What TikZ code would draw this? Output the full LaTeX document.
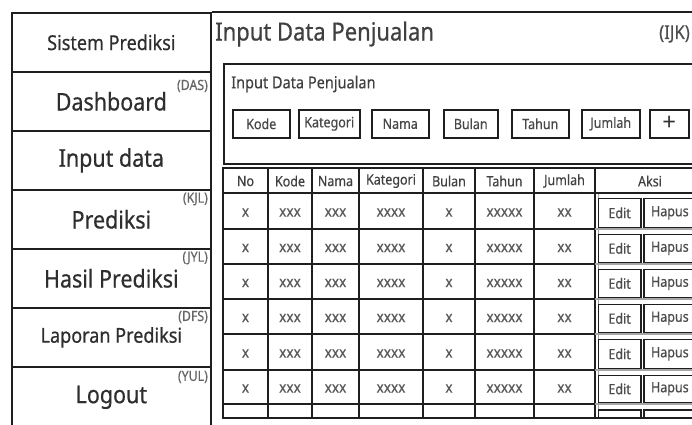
\documentclass[tikz,border=0pt]{standalone}
\usepackage{fontspec}
\setmainfont[FakeStretch=0.88,FakeBold=0.5]{Noto Sans}
\newfontfamily\thinfont{Noto Sans}
\begin{document}
\begin{tikzpicture}[x=1pt,y=-1pt,
  frame/.style={draw=black!88, line width=1.7pt},
  menu/.style={frame, anchor=north west, minimum width=199pt, minimum height=59pt, inner sep=0pt, text=black!82},
  big/.style={font=\fontsize{24.4}{27}\selectfont},
  mid/.style={font=\fontsize{20.5}{23}\selectfont},
  tag/.style={anchor=east, inner sep=0pt, text=black!60, font=\fontsize{14}{15}\selectfont},
  field/.style={draw=black!88, line width=1.5pt, anchor=north west, minimum height=28pt, inner sep=0pt, text=black!72, font=\fontsize{14.2}{16}\selectfont},
  head/.style={inner sep=0pt, text=black!75, font=\fontsize{14.2}{16}\selectfont},
  datum/.style={inner sep=0pt, text=black!65, font=\fontsize{15.5}{17}\selectfont},
  btn/.style={draw=black!88, line width=1.7pt, anchor=north west, minimum height=29pt, inner sep=0pt, text=black!70, font=\fontsize{14.2}{16}\selectfont},
  faint/.style={draw=black!35, line width=1.2pt},
]
\useasboundingbox (0,0) rectangle (692,424);

% ---------- side menu ----------
\node[menu, mid] (m0) at (11,12)  {Sistem Prediksi};
\node[menu, big] (m1) at (11,71)  {Dashboard};
\node[menu, big] (m2) at (11,130) {Input data};
\node[menu, big] (m3) at (11,189) {Prediksi};
\node[menu, big] (m4) at (11,248) {Hasil Prediksi};
\node[menu, mid] (m5) at (11,307) {Laporan Prediksi};
\node[menu, big, minimum height=61pt] (m6) at (11,366) {Logout};

\node[tag] (t1) at (208,86)  {(DAS)};
\node[tag] (t3) at (208,199) {(KJL)};
\node[tag] (t4) at (208,258) {(JYL)};
\node[tag] (t5) at (208,317) {(DFS)};
\node[tag] (t6) at (208,377) {(YUL)};

% ---------- page header ----------
\draw[frame] (m0.north east) -- (700,12);
\node[anchor=west, inner sep=0pt, text=black!75, font=\fontsize{25}{28}\selectfont] (title) at (215,34) {Input Data Penjualan};
\node[anchor=east, inner sep=0pt, text=black!70, font=\fontsize{19}{21}\selectfont] (code) at (690,34) {(IJK)};

% ---------- input form ----------
\node[frame, anchor=north west, minimum width=490pt, minimum height=100pt, inner sep=0pt] (form) at (223,63) {};
\node[anchor=west, inner sep=0pt, text=black!75, font=\fontsize{16.5}{18}\selectfont] (ftitle) at (231,84) {Input Data Penjualan};

\node[field, minimum width=57pt] (fkode) at (232,109) {Kode};
\node[field, minimum width=61pt] (fkat)  at (298,109) {Kategori};
\node[field, minimum width=57pt] (fnama) at (371,109) {Nama};
\node[field, minimum width=54pt] (fbul)  at (443,109) {Bulan};
\node[field, minimum width=57pt] (fthn)  at (511,109) {Tahun};
\node[field, minimum width=58pt] (fjml)  at (581,109) {Jumlah};
\node[field, minimum width=39pt, text=black!80, font=\thinfont\fontsize{24}{24}\selectfont] (fadd) at (649,109) {+};

% ---------- table grid ----------
\draw[frame] (700,168) -- (223,168) -- (223,418) -- (700,418);
\foreach \x in {268,312,359,423,475,534,595}
  \draw[frame] (\x,168) -- (\x,418);
\draw[frame] (223,193) -- (700,193);
\draw[faint] (598.5,194) -- (598.5,418);
\foreach \y in {229,264,299,334,370,404}{
  \draw[faint] (595,\y) -- (700,\y);
  \draw[frame] (223,\y) -- (595,\y);
}

% header row
\foreach \cx/\txt [count=\i] in {245.5/No,290/Kode,335.5/Nama,391/Kategori,449/Bulan,504.5/Tahun,564.5/Jumlah,650/Aksi}
  \node[head] (h\i) at (\cx,181) {\txt};

% data rows
\foreach \top/\bot [count=\r] in {193/229,229/264,264/299,299/334,334/370,370/404}{
  \pgfmathsetmacro{\cy}{(\top+\bot)/2+1.5}
  \foreach \cx/\txt [count=\c] in {245.5/x,290/xxx,335.5/xxx,391/xxxx,449/x,504.5/xxxxx,564.5/xx}
    \node[datum] (d\r-\c) at (\cx,\cy) {\txt};
  \pgfmathsetmacro{\by}{\top+4.5}
  \node[btn, minimum width=42.5pt, minimum height=\bot-\top-7] (e\r) at (597.5,\by) {Edit};
  \node[btn, minimum width=52pt, minimum height=\bot-\top-7] (x\r) at (643,\by) {Hapus};
}

% partly hidden last row
\begin{scope}
  \clip (595,404) rectangle (700,418);
  \node[btn, minimum width=42.5pt] (e7) at (597.5,409) {};
  \node[btn, minimum width=52pt] (x7) at (643,409) {};
\end{scope}
\draw[frame] (223,418) -- (700,418);
\end{tikzpicture}
\end{document}
